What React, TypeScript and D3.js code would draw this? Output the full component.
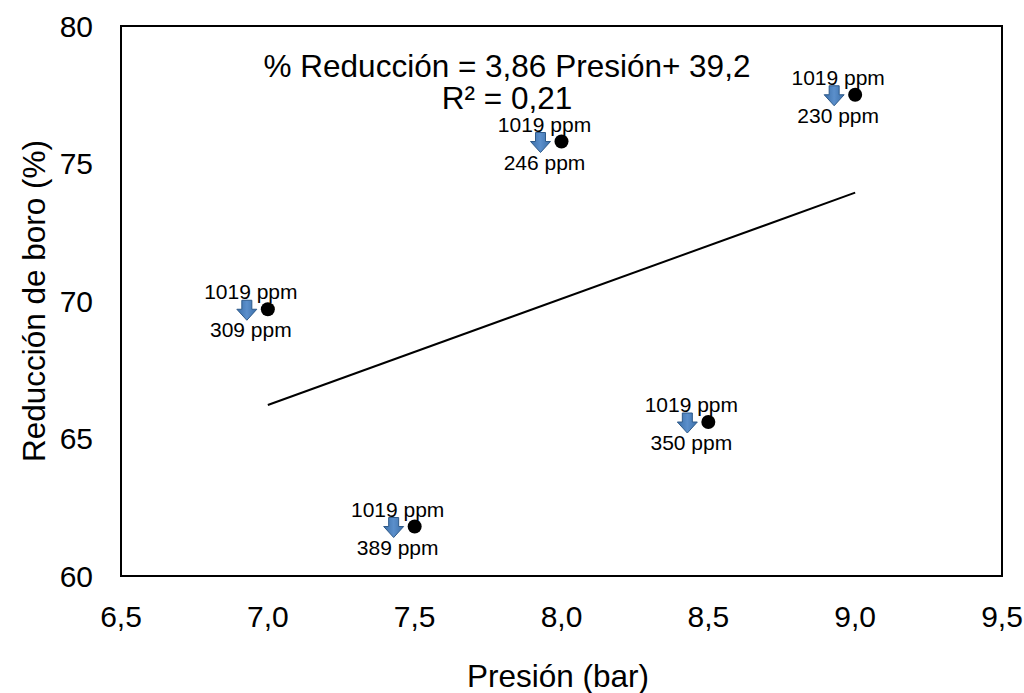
import React from "react"
import { scaleLinear } from "d3"

// data
const presion = [7.0, 7.5, 8.0, 8.5, 9.0]
const reduccion = [69.7, 61.8, 75.8, 65.6, 77.5]
const inicial = ["1019 ppm", "1019 ppm", "1019 ppm", "1019 ppm", "1019 ppm"]
const final = ["309 ppm", "389 ppm", "246 ppm", "350 ppm", "230 ppm"]
const xTicks = [6.5, 7.0, 7.5, 8.0, 8.5, 9.0, 9.5]
const yTicks = [60, 65, 70, 75, 80]
const slope = 3.86
const intercept = 39.2

const App = () => {
  const width = 1024
  const height = 693
  const margins = { top: 26, right: 22, bottom: 117, left: 121 }
  const font = "Arial, 'Liberation Sans', sans-serif"

  const xScale = scaleLinear().domain([6.5, 9.5]).range([margins.left, width - margins.right])
  const yScale = scaleLinear().domain([60, 80]).range([height - margins.bottom, margins.top])

  const fmt = (v: number) => v.toFixed(1).replace(".", ",")

  const arrow = (cx: number, cy: number) => {
    // block arrow pointing down
    const sw = 5
    const hw = 10
    const top = cy - 9
    const mid = cy
    const bot = cy + 11
    return `M${cx - sw},${top} L${cx + sw},${top} L${cx + sw},${mid} L${cx + hw},${mid} L${cx},${bot} L${cx - hw},${mid} L${cx - sw},${mid} Z`
  }

  return (
    <svg width={width} height={height} style={{ display: "block", position: "absolute", left: 0, top: 0 }}>
      <defs>
        <linearGradient id="arrowFill" x1="0" y1="0" x2="1" y2="0">
          <stop offset="0%" stopColor="#3A6EA8" />
          <stop offset="50%" stopColor="#5B8FCB" />
          <stop offset="100%" stopColor="#3A6EA8" />
        </linearGradient>
      </defs>
      <rect width={width} height={height} fill="white" />

      {/* plot frame */}
      <rect
        x={xScale(6.5)}
        y={yScale(80)}
        width={xScale(9.5) - xScale(6.5)}
        height={yScale(60) - yScale(80)}
        fill="none"
        stroke="black"
        strokeWidth={2}
      />

      {/* y ticks */}
      {yTicks.map((t) => (
        <text key={t} x={93} y={yScale(t)} dy="0.36em" textAnchor="end" fontSize={30} fontFamily={font}>
          {t}
        </text>
      ))}

      {/* x ticks */}
      {xTicks.map((t) => (
        <text key={t} x={xScale(t)} y={627} textAnchor="middle" fontSize={30} fontFamily={font}>
          {fmt(t)}
        </text>
      ))}

      {/* axis titles */}
      <text
        transform={`translate(45, ${(yScale(60) + yScale(80)) / 2}) rotate(-90)`}
        textAnchor="middle"
        fontSize={31.5}
        fontFamily={font}
      >
        Reducción de boro (%)
      </text>
      <text x={558} y={687} textAnchor="middle" fontSize={31.5} fontFamily={font}>
        Presión (bar)
      </text>

      {/* trend line */}
      <line
        x1={xScale(presion[0])}
        y1={yScale(slope * presion[0] + intercept)}
        x2={xScale(presion[presion.length - 1])}
        y2={yScale(slope * presion[presion.length - 1] + intercept)}
        stroke="black"
        strokeWidth={2}
      />

      {/* equation */}
      <text x={507} y={77} textAnchor="middle" fontSize={31.5} fontFamily={font}>
        % Reducción = 3,86 Presión+ 39,2
      </text>
      <text x={507} y={109} textAnchor="middle" fontSize={31.5} fontFamily={font}>
        R² = 0,21
      </text>

      {/* points + annotations */}
      {presion.map((p, i) => {
        const cx = xScale(p)
        const cy = yScale(reduccion[i])
        return (
          <g key={i}>
            <circle cx={cx} cy={cy} r={7} fill="black" />
            <path d={arrow(cx - 21, cy)} fill="url(#arrowFill)" stroke="#2E5A8A" strokeWidth={1} />
            <text x={cx - 17} y={cy - 10} textAnchor="middle" fontSize={21} fontFamily={font}>
              {inicial[i]}
            </text>
            <text x={cx - 17} y={cy + 28} textAnchor="middle" fontSize={21} fontFamily={font}>
              {final[i]}
            </text>
          </g>
        )
      })}
    </svg>
  )
}

export default App
